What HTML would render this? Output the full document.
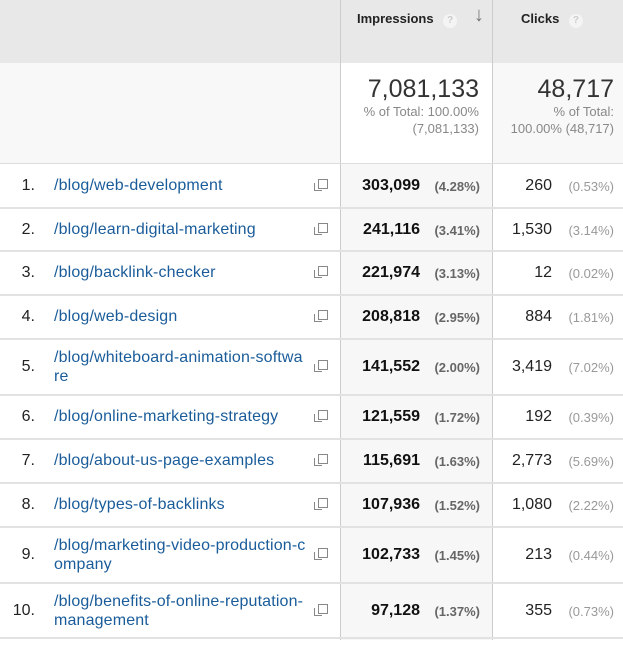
<!DOCTYPE html>
<html><head><meta charset="utf-8"><style>
body{margin:0;width:623px;height:645px;overflow:hidden;background:#fff;font-family:"Liberation Sans",Arial,sans-serif;position:relative}
.a{position:absolute;white-space:nowrap}
.hd{position:absolute;left:0;top:0;width:623px;height:63px;background:#e8e8e8;border-bottom:1px solid #ddd}
.tot{position:absolute;left:0;top:63px;width:623px;height:101px;background:#f8f8f8}
.vl{position:absolute;top:0;width:1px;height:640px;background:#ccc}
.hl{position:absolute;left:0;width:623px;height:2px;background:#e2e2e2}
.num{color:#222;font-size:16px}
.link{color:#1a5c9a;font-size:16px;line-height:19px;letter-spacing:0.15px}
.imp{font-weight:bold;font-size:16px;color:#111}
.pct{color:#777;font-size:13px}
.pb{font-weight:bold;color:#666}
.q{display:inline-block;width:14px;height:14px;border-radius:50%;background:#f4f4f4;color:#ccc;font-size:10px;text-align:center;line-height:14px;font-weight:bold}
.ic{position:absolute;left:318px;width:8px;height:8px;border:1.5px solid #888;background:#fff}
.ic:before{content:"";position:absolute;left:-5px;top:3px;width:7px;height:7px;border:1.5px solid #888;border-top:none;border-right:none}
</style></head><body>
<div class="hd"></div>
<div class="tot"></div>
<div style="position:absolute;left:341px;top:63px;width:151px;height:101px;background:#fff"></div>
<div style="position:absolute;left:341px;top:164px;width:151px;height:476px;background:#f7f7f7"></div>
<div class="vl" style="left:340px"></div>
<div class="vl" style="left:492px"></div>
<div class="a" style="left:357px;top:11px;font-size:13px;font-weight:bold;color:#222">Impressions <span class="q" style="margin-left:6px">?</span></div>
<div class="a" style="left:474px;top:4px;font-size:20px;font-weight:bold;color:#777">↓</div>
<div class="a" style="left:521px;top:11px;font-size:13px;font-weight:bold;color:#222">Clicks <span class="q" style="margin-left:6px">?</span></div>
<div class="a" style="right:144px;top:75px;font-size:25px;color:#333">7,081,133</div>
<div class="a" style="right:144px;top:103px;font-size:13px;color:#888;text-align:right;line-height:17px">% of Total: 100.00%<br>(7,081,133)</div>
<div class="a" style="right:9px;top:75px;font-size:25px;color:#333">48,717</div>
<div class="a" style="right:9px;top:103px;font-size:13px;color:#888;text-align:right;line-height:17px">% of Total:<br>100.00% (48,717)</div>
<div class="hl" style="top:163px;height:1px;background:#ddd"></div>
<div id="rows"></div>
<script>
var d=[
["1.","/blog/web-development","303,099","4.28%","260","0.53%",164,208],
["2.","/blog/learn-digital-marketing","241,116","3.41%","1,530","3.14%",208,251],
["3.","/blog/backlink-checker","221,974","3.13%","12","0.02%",251,295],
["4.","/blog/web-design","208,818","2.95%","884","1.81%",295,339],
["5.","/blog/whiteboard-animation-softwa<br>re","141,552","2.00%","3,419","7.02%",339,395],
["6.","/blog/online-marketing-strategy","121,559","1.72%","192","0.39%",395,439],
["7.","/blog/about-us-page-examples","115,691","1.63%","2,773","5.69%",439,483],
["8.","/blog/types-of-backlinks","107,936","1.52%","1,080","2.22%",483,527],
["9.","/blog/marketing-video-production-c<br>ompany","102,733","1.45%","213","0.44%",527,583],
["10.","/blog/benefits-of-online-reputation-<br>management","97,128","1.37%","355","0.73%",583,638]];
var h="";
d.forEach(function(r){var c=(r[6]+r[7])/2;var two=r[1].indexOf("<br>")>0;
h+='<div class="a num" style="right:588px;top:'+(c-9)+'px">'+r[0]+'</div>';
h+='<div class="a link" style="left:54px;top:'+(c-(two?19:10))+'px">'+r[1]+'</div>';
h+='<div class="ic" style="top:'+(c-7)+'px"></div>';
h+='<div class="a imp" style="right:203px;top:'+(c-9)+'px">'+r[2]+'</div>';
h+='<div class="a pct pb" style="right:143px;top:'+(c-7)+'px">('+r[3]+')</div>';
h+='<div class="a num" style="right:71px;top:'+(c-9)+'px">'+r[4]+'</div>';
h+='<div class="a pct" style="right:9px;top:'+(c-7)+'px;color:#999">('+r[5]+')</div>';
h+='<div class="hl" style="top:'+(r[7]-1)+'px"></div>';});
document.getElementById("rows").innerHTML=h;
</script>
</body></html>
